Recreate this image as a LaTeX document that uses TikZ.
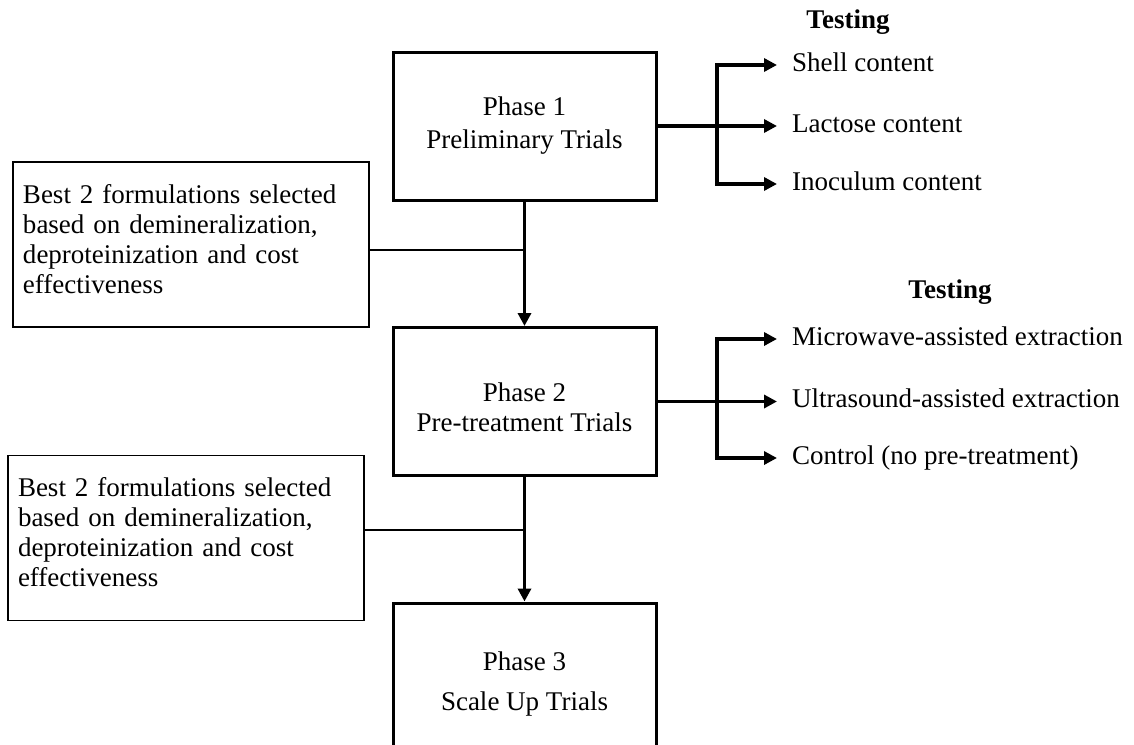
\documentclass[tikz,border=0pt]{standalone}
\usepackage{fontspec}
\setmainfont{Liberation Serif}
\usetikzlibrary{arrows.meta}

\begin{document}
\begin{tikzpicture}[x=1pt, y=-1pt,
  every node/.style={font=\fontsize{27pt}{30pt}\selectfont},
  phasebox/.style={draw, line width=3pt, minimum width=263pt, minimum height=148pt,
    align=center, inner sep=0pt},
  notebox/.style={draw, line width=1.2pt, text width=336pt, inner xsep=10pt,
    minimum height=165pt, align=left},
  testitem/.style={anchor=west, inner xsep=15pt, inner ysep=0pt,
    text height=16pt, text depth=4pt},
  testhead/.style={anchor=base, font=\fontsize{27pt}{30pt}\selectfont\bfseries},
  flowarrow/.style={line width=3.5pt, -{Triangle[length=13pt,width=13pt]}},
  noteline/.style={line width=1.2pt}
]
\useasboundingbox (0,0) rectangle (1134,744);

% main phases
\node[phasebox, font=\fontsize{27pt}{33pt}\selectfont] (P1) at (524.5,126) {Phase 1\\Preliminary Trials};
\node[phasebox] (P2) at (524.5,401.5) {\rule{0pt}{30pt}Phase 2\\Pre-treatment Trials};
\node[phasebox, minimum height=162pt, font=\fontsize{27pt}{40pt}\selectfont] (P3) at (524.5,684) {Phase 3\\Scale Up Trials};

% selection notes
\node[notebox] (N1) at (191,244.5) {Best 2 formulations selected\\based on demineralization,\\deproteinization and cost\\effectiveness\rule[-11.4pt]{0pt}{11.4pt}};
\node[notebox] (N2) at (186,538) {Best 2 formulations selected\\based on demineralization,\\deproteinization and cost\\effectiveness\rule[-11.4pt]{0pt}{11.4pt}};

% flow between phases
\draw[flowarrow] (P1) -- (P2);
\draw[flowarrow] (P2) -- (P3);
\coordinate (j1) at (524.5,250);
\coordinate (j2) at (524.5,530);
\draw[noteline] (j1 -| N1.east) -- (j1);
\draw[noteline] (j2 -| N2.east) -- (j2);

% testing of phase 1
\node[testhead] (H1) at (848,28) {Testing};
\node[testitem] (A1) at (777,65) {Shell content};
\node[testitem] (A2) at (777,126) {Lactose content};
\node[testitem] (A3) at (777,184) {Inoculum content};
\coordinate (b1t) at (717,65);
\coordinate (b1b) at (717,184);
\draw[flowarrow] (b1b) -- (b1t) -- (A1.west);
\draw[flowarrow] (b1t) -- (b1b) -- (A3.west);
\draw[flowarrow] (P1.east) -- (A2.west);

% testing of phase 2
\node[testhead] (H2) at (950,298) {Testing};
\node[testitem] (B1) at (777,339) {Microwave-assisted extraction};
\node[testitem] (B2) at (777,401.5) {Ultrasound-assisted extraction};
\node[testitem] (B3) at (777,458) {Control (no pre-treatment)};
\coordinate (b2t) at (717,339);
\coordinate (b2b) at (717,458);
\draw[flowarrow] (b2b) -- (b2t) -- (B1.west);
\draw[flowarrow] (b2t) -- (b2b) -- (B3.west);
\draw[flowarrow] (P2.east) -- (B2.west);
\end{tikzpicture}
\end{document}
